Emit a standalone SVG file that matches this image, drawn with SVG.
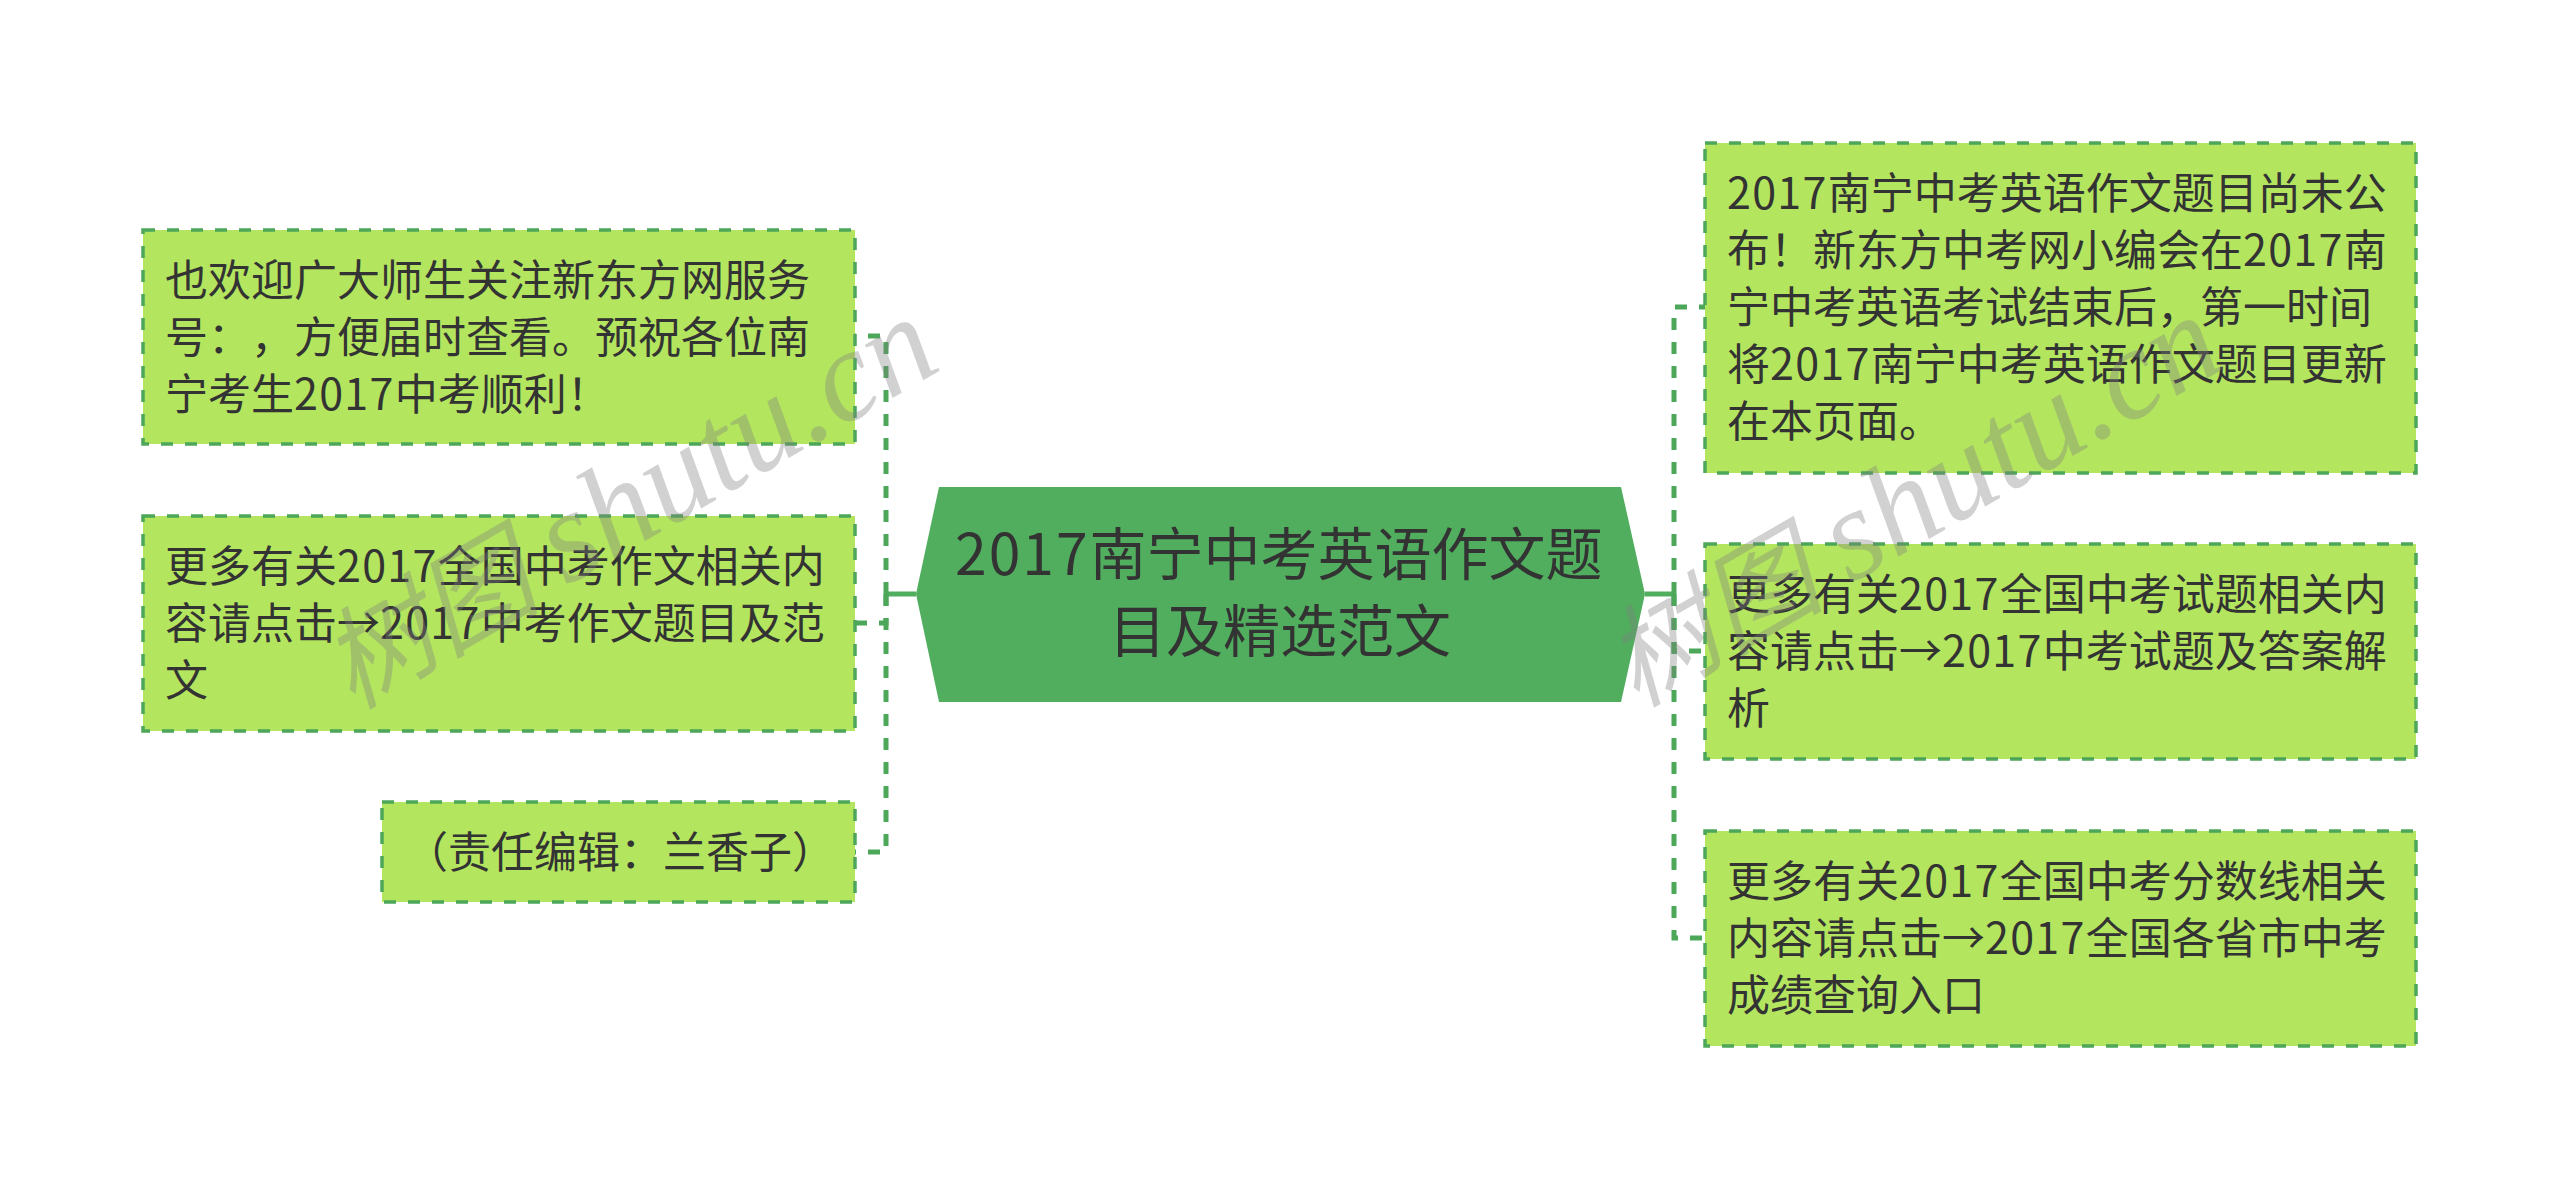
<svg xmlns="http://www.w3.org/2000/svg" width="2560" height="1189" viewBox="0 0 2560 1189">
<style>
text{font-family:"Noto Sans CJK SC","Noto Sans",sans-serif;fill:#333;font-feature-settings:"chws" 0,"halt" 0;text-spacing-trim:space-all;font-kerning:none}
.t{font-size:43px}
.r{font-size:57px}
.d{letter-spacing:1.3px}
.e{letter-spacing:2px}
.b{fill:#b3e55f;stroke:#4ca75a;stroke-width:3.5;stroke-dasharray:12 12}
.c{fill:none;stroke:#4ca75a;stroke-width:5;stroke-dasharray:12 12}
.s{fill:none;stroke:#50ae5e;stroke-width:5}
.w{font-family:"Liberation Serif","Noto Sans CJK SC",serif;font-style:italic;font-size:110px;fill:#808080;fill-opacity:.36;font-kerning:auto}
.l{font-size:130px}
</style>
<rect width="2560" height="1189" fill="#fff"/>
<g id="connectors">
<path class="s" d="M916 594H886"/>
<path class="s" d="M1645 594H1674"/>
<path class="c" d="M886 594V336H855"/>
<path class="c" d="M886 594V623H855"/>
<path class="c" d="M886 594V852H855"/>
<path class="c" d="M1674 594V307H1705"/>
<path class="c" d="M1674 594V651H1705"/>
<path class="c" d="M1674 594V938H1705"/>
</g>
<g id="root">
<polygon points="939,487 1621,487 1645,594 1621,702 939,702 916,594" fill="#50ae5e"/>
<text class="r" x="955" y="575"><tspan class="e">2017</tspan>南宁中考英语作文题</text>
<text class="r" x="1109" y="652">目及精选范文</text>
</g>
<g id="node-l1">
<rect class="b" x="143" y="230" width="712" height="214"/>
<text class="t" x="165" y="296">也欢迎广大师生关注新东方网服务</text>
<text class="t" x="165" y="353">号：，方便届时查看。预祝各位南</text>
<text class="t" x="165" y="410">宁考生<tspan class="d">2017</tspan>中考顺利！</text>
</g>
<g id="node-l2">
<rect class="b" x="143" y="516" width="712" height="215"/>
<text class="t" x="165" y="582">更多有关<tspan class="d">2017</tspan>全国中考作文相关内</text>
<text class="t" x="165" y="639">容请点击→<tspan class="d">2017</tspan>中考作文题目及范</text>
<text class="t" x="165" y="696">文</text>
</g>
<g id="node-l3">
<rect class="b" x="382" y="802" width="473" height="100"/>
<text class="t" x="405" y="868">（责任编辑：兰香子）</text>
</g>
<g id="node-r1">
<rect class="b" x="1705" y="143" width="711" height="330"/>
<text class="t" x="1727" y="209"><tspan class="d">2017</tspan>南宁中考英语作文题目尚未公</text>
<text class="t" x="1727" y="266">布！新东方中考网小编会在<tspan class="d">2017</tspan>南</text>
<text class="t" x="1727" y="323">宁中考英语考试结束后，第一时间</text>
<text class="t" x="1727" y="380">将<tspan class="d">2017</tspan>南宁中考英语作文题目更新</text>
<text class="t" x="1727" y="437">在本页面。</text>
</g>
<g id="node-r2">
<rect class="b" x="1705" y="544" width="711" height="215"/>
<text class="t" x="1727" y="610">更多有关<tspan class="d">2017</tspan>全国中考试题相关内</text>
<text class="t" x="1727" y="667">容请点击→<tspan class="d">2017</tspan>中考试题及答案解</text>
<text class="t" x="1727" y="724">析</text>
</g>
<g id="node-r3">
<rect class="b" x="1705" y="831" width="711" height="215"/>
<text class="t" x="1727" y="897">更多有关<tspan class="d">2017</tspan>全国中考分数线相关</text>
<text class="t" x="1727" y="954">内容请点击→<tspan class="d">2017</tspan>全国各省市中考</text>
<text class="t" x="1727" y="1011">成绩查询入口</text>
</g>
<g id="watermarks">
<text class="w" transform="translate(352 710) rotate(-30)">树图 <tspan class="l">shutu.cn</tspan></text>
<text class="w" transform="translate(1636 708) rotate(-30)">树图 <tspan class="l">shutu.cn</tspan></text>
</g>
</svg>
